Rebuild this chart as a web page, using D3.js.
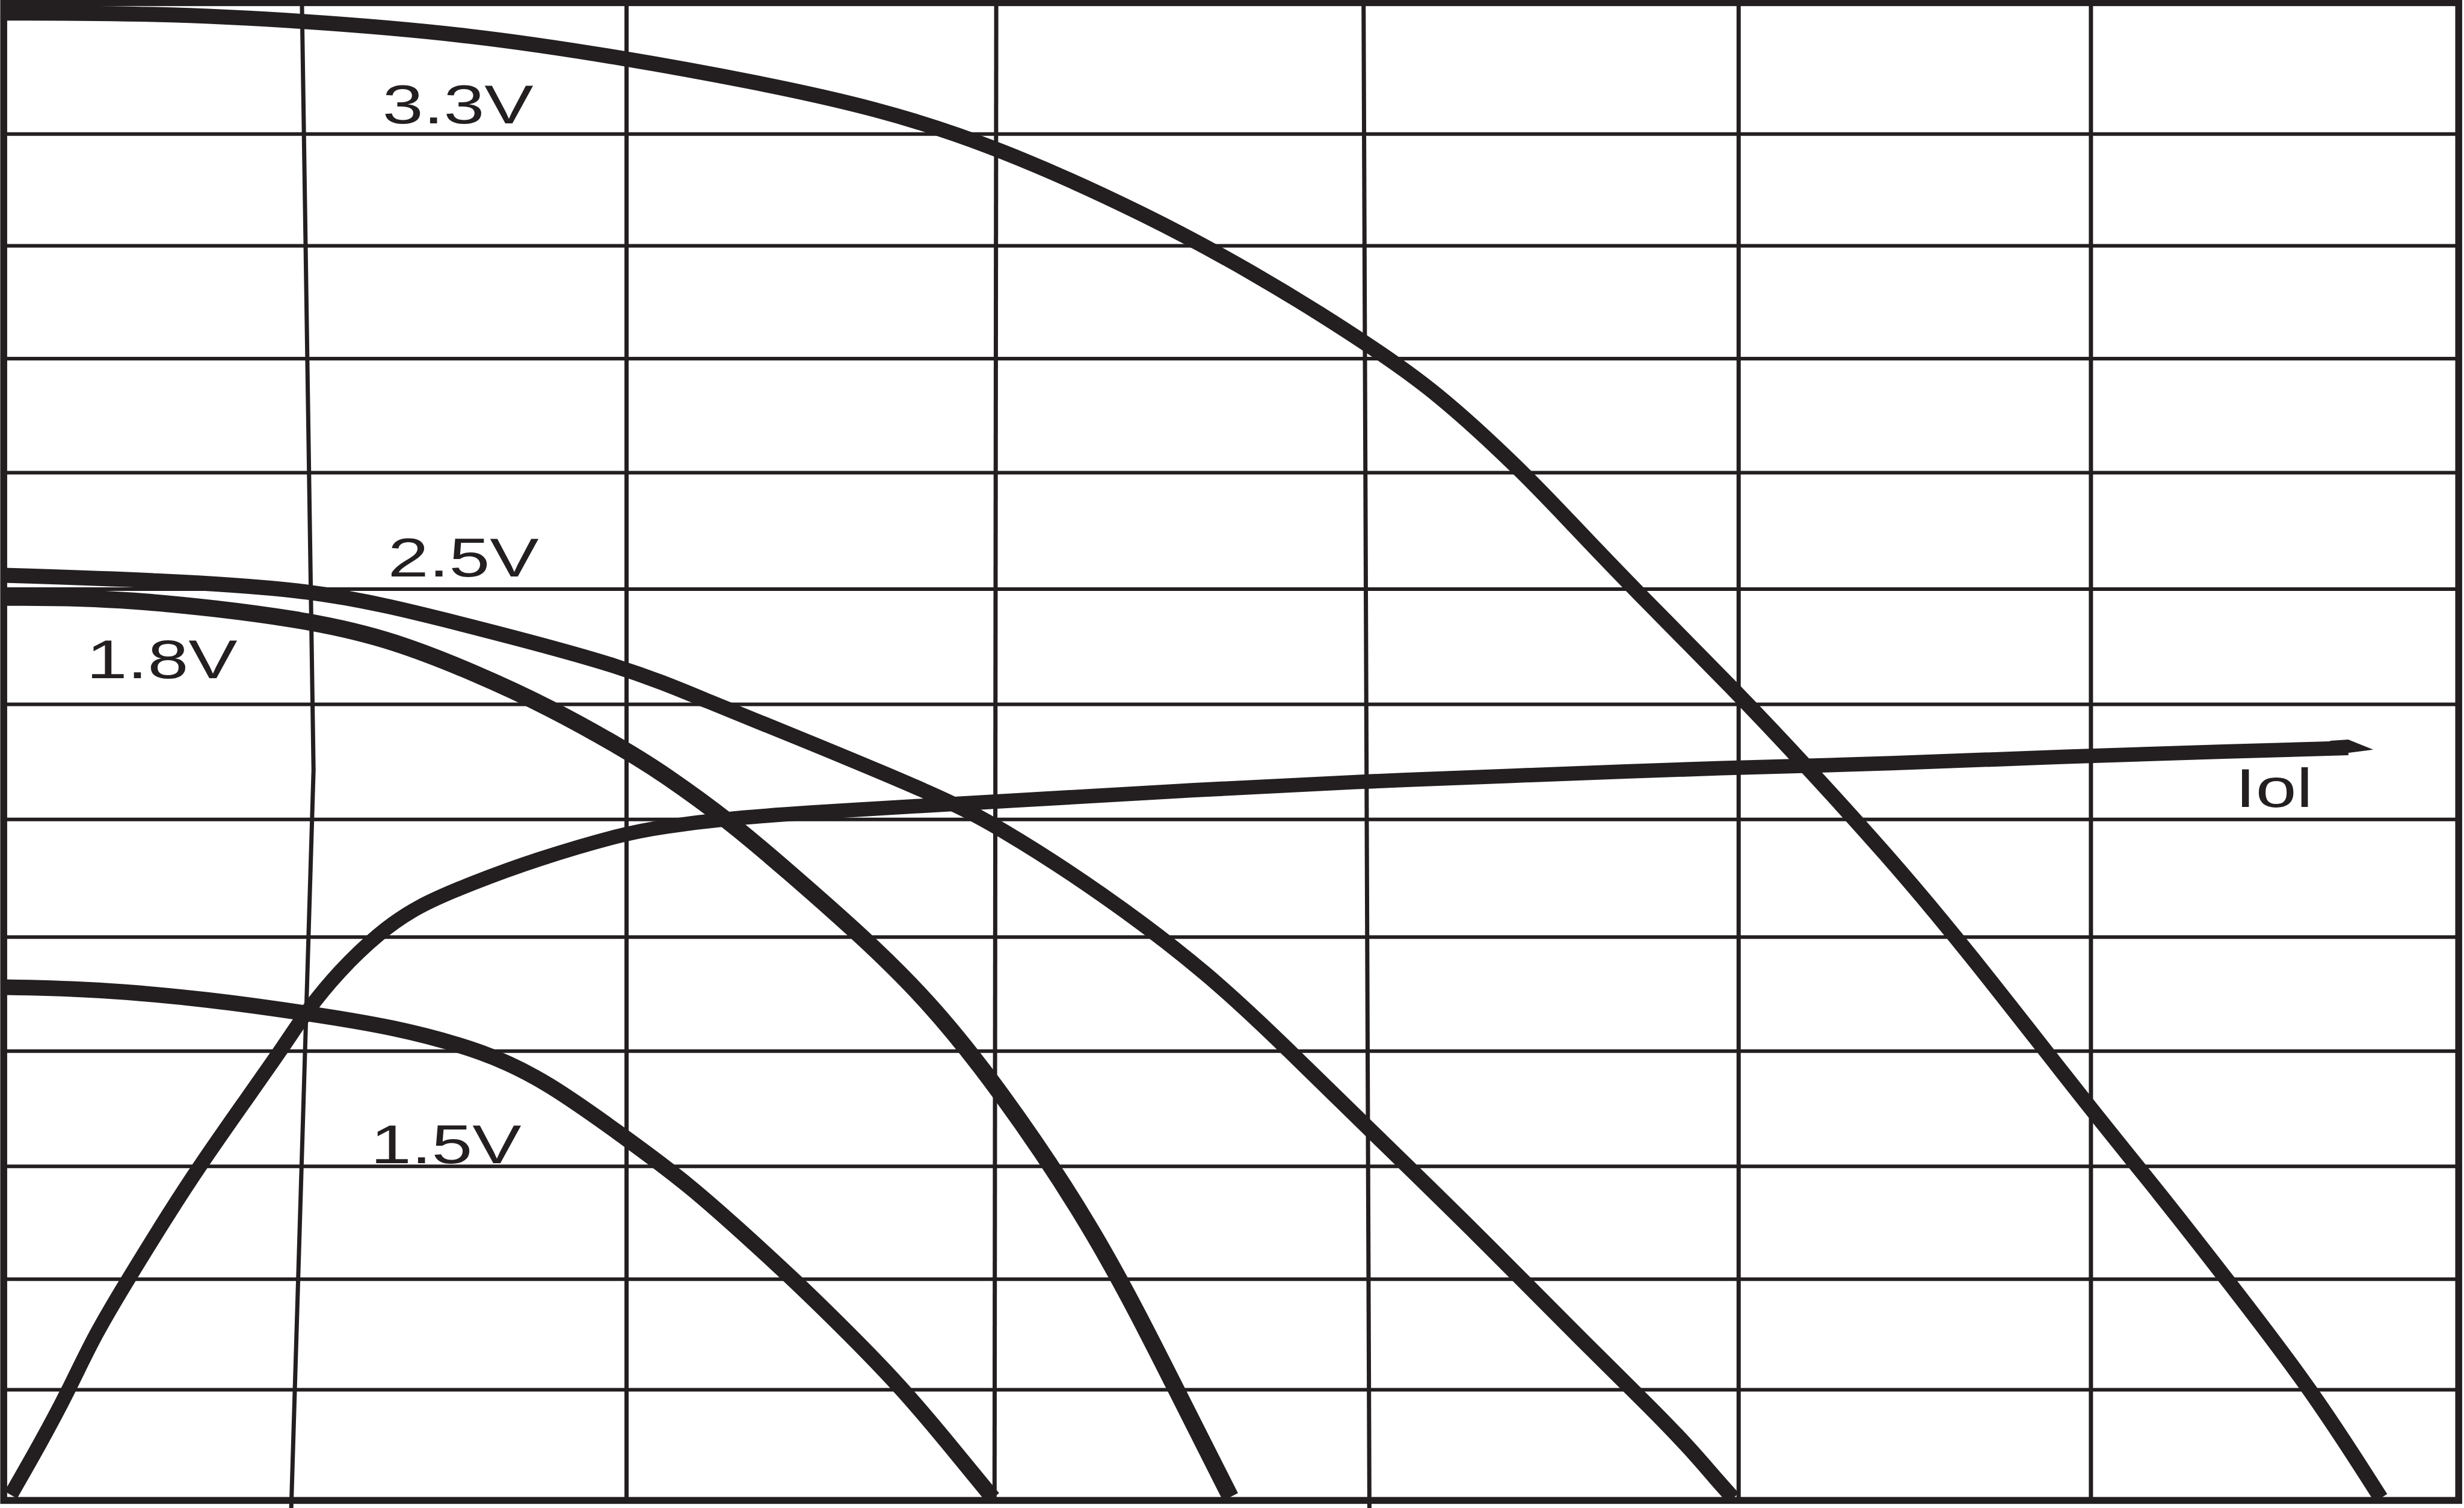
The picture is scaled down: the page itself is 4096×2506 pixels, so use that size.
<!DOCTYPE html>
<html><head><meta charset="utf-8">
<script src="https://cdn.jsdelivr.net/npm/d3@7"></script>
<style>html,body{margin:0;padding:0;background:#fff;overflow:hidden}</style>
</head><body>
<script>
// ---- data (x: 0..100 across the frame, y: 0..13 grid rows from the bottom) ----
const v33 = [[0,12.91],[6.12,12.907],[12.14,12.845],[19.05,12.723],[25.32,12.518],[30.57,12.313],[35.50,12.088],[40.43,11.754],[46.77,11.140],[51.06,10.635],[53.87,10.267],[55.54,10.035],[58.29,9.639],[61.94,8.916],[63.86,8.480],[66.42,7.907],[70.64,7.006],[73.46,6.365],[76.66,5.615],[79.86,4.810],[84.98,3.404],[87.86,2.654],[90.55,1.918],[94.01,0.962],[96.83,0.02]];
const v25 = [[0,8.03],[6.25,7.988],[12.33,7.907],[15.85,7.757],[19.18,7.579],[25.32,7.238],[28.65,6.938],[31.85,6.665],[38.13,6.112],[40.43,5.860],[44.66,5.287],[49.14,4.564],[52.34,3.909],[55.47,3.254],[60.02,2.313],[64.69,1.303],[67.06,0.812],[68.72,0.444],[69.75,0.185],[70.45,0.02]];
const v18 = [[0,7.838],[4.84,7.838],[12.46,7.648],[15.98,7.456],[19.18,7.184],[22.25,6.883],[25.32,6.515],[26.86,6.310],[29.61,5.888],[31.85,5.478],[34.93,4.905],[37.68,4.332],[40.43,3.609],[44.53,2.327],[47.79,0.949],[49.97,0.03]];
const v15 = [[0,4.455],[3.69,4.441],[8.49,4.346],[12.07,4.237],[15.85,4.114],[19.63,3.896],[22.12,3.636],[25.26,3.159],[27.95,2.736],[30.57,2.231],[32.17,1.918],[34.41,1.453],[36.65,0.962],[38.57,0.471],[40.30,0.02]];
const iol = [[0.29,0.048],[1.50,0.499],[2.60,0.935],[3.71,1.440],[5.14,1.945],[6.68,2.477],[8.01,2.913],[9.77,3.448],[11.54,3.984],[12.30,4.237],[13.63,4.589],[15.27,4.924],[16.83,5.158],[19.05,5.356],[21.61,5.560],[25.32,5.792],[26.86,5.847],[29.30,5.915],[32.62,5.969],[38.13,6.038],[40.43,6.065],[47.86,6.160],[55.47,6.242],[60.66,6.283],[70.64,6.365],[76.66,6.392],[84.15,6.460],[90.74,6.501],[95.50,6.531]];
const iolTip = [96.52, 6.517];

const seriesNames = ["3.3V","2.5V","1.8V","1.5V","Iol"];
const seriesData = [v33, v25, v18, v15, iol];

const gridY = [0.96,1.92,2.90,3.90,4.89,5.91,6.91,7.91,8.92,9.91,10.89,11.86];
const gridX = [
  [[12.14,13.1],[12.62,6.34],[11.71,-0.08]],
  [[25.37,13.1],[25.37,0]],
  [[40.43,13.1],[40.36,0]],
  [[55.39,13.1],[55.63,-0.08]],
  [[70.67,13.1],[70.67,0]],
  [[85.02,13.1],[85.02,0]]
];
const labelText = ["3.3V","2.5V","1.8V","1.5V","Iol"];
const labelX = [15.43,15.65,3.37,14.94,90.9];
const labelY = [11.954,8.017,7.136,2.927,6.018];

// ---- drawing ----
const W = 4096, H = 2506, S = 4096/4644;
const ink = "#231f20";
const svg = d3.select("body").append("svg").attr("width",W).attr("height",H)
  .style("display","block").style("background","#fff");

const x = d3.scaleLinear().domain([0,100]).range([7*S, 4634*S]);
const y = d3.scaleLinear().domain([0,13]).range([2827*S, 5*S]);

const straight = d3.line().x(d=>x(d[0])).y(d=>y(d[1]));
const smooth = d3.line().x(d=>x(d[0])).y(d=>y(d[1])).curve(d3.curveBasis);

// grid
svg.append("g").selectAll("line").data(gridY).join("line")
  .attr("x1", x(0)).attr("x2", x(100)).attr("y1", d=>y(d)).attr("y2", d=>y(d))
  .attr("stroke", ink).attr("stroke-width", 6);
svg.append("g").selectAll("path").data(gridX).join("path")
  .attr("d", straight).attr("fill","none").attr("stroke", ink).attr("stroke-width", 7);

// curves
const widths = {"3.3V":25,"2.5V":25,"1.8V":28,"1.5V":26,"Iol":24};
svg.append("g").selectAll("path").data(seriesData).join("path")
  .attr("d", smooth).attr("fill","none").attr("stroke", ink)
  .attr("stroke-width", (d,i)=>widths[seriesNames[i]])
  .attr("stroke-linejoin","round").attr("stroke-linecap","butt");

// Iol pointed end
const last = iol[iol.length-1];
const ex = x(last[0]), ey = y(last[1]), hw = widths["Iol"]/2;
svg.append("path")
  .attr("d", `M${ex},${ey-hw-2}L${x(iolTip[0])},${y(iolTip[1])}L${ex-30},${ey+hw}L${ex-30},${ey-hw}Z`)
  .attr("fill", ink);

// frame
svg.append("rect").attr("x", x(0)).attr("y", y(13)).attr("width", x(100)-x(0)).attr("height", y(0)-y(13))
  .attr("fill","none").attr("stroke", ink).attr("stroke-width", 11.5);

// labels
const fs = 91, sx = 1.34;
svg.append("g").selectAll("text").data(labelText).join("text")
  .attr("transform", (d,i)=>`translate(${x(labelX[i])},${y(labelY[i])}) scale(${sx},1)`)
  .attr("font-family","'Liberation Sans', Arial, Helvetica, sans-serif")
  .attr("font-size", fs).attr("fill", ink)
  .text(d=>d);
</script>
</body></html>
